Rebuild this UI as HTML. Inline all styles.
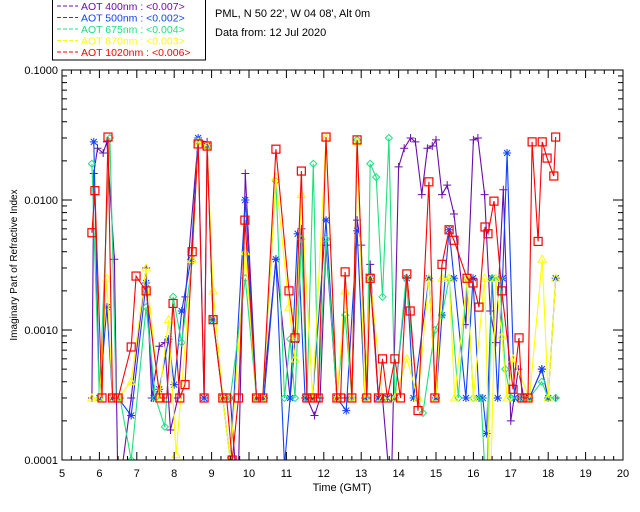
<!DOCTYPE html>
<html><head><meta charset="utf-8">
<style>
body{margin:0;background:#fff;}
svg{display:block;font-family:"Liberation Sans",sans-serif;}
</style></head>
<body>
<svg id="chart" width="640" height="512" viewBox="0 0 640 512">
  <rect x="0" y="0" width="640" height="512" fill="#fff"/>
  <g id="legend">
    <rect x="52.5" y="-1" width="153" height="61" fill="none" stroke="#000"/>
  </g>
  <text x="215" y="17" font-size="11">PML, N 50 22', W 04 08', Alt 0m</text>
  <text x="215" y="36" font-size="11">Data from: 12 Jul 2020</text>
  <defs><clipPath id="plotclip"><rect x="62" y="70" width="561" height="390"/></clipPath></defs>
  <g id="series" clip-path="url(#plotclip)"></g>
  <g id="axes"></g>
  <text x="342" y="491" font-size="11" text-anchor="middle">Time (GMT)</text>
  <text x="17" y="265" font-size="10" text-anchor="middle" transform="rotate(-90 17 265)">Imaginary Part of Refractive Index</text>
</svg>
<script>
const xTicks=[5,6,7,8,9,10,11,12,13,14,15,16,17,18,19,20];
const yTicks=[0.1,0.01,0.001,0.0001];
const yTickLabels=["0.1000","0.0100","0.0010","0.0001"];
const legendLabels=["AOT  400nm : <0.007>","AOT  500nm : <0.002>","AOT  675nm : <0.004>","AOT  870nm : <0.003>","AOT 1020nm : <0.006>"];
const colors=["#6a0dad","#1040ff","#20e080","#ffff00","#ff0000"];
const B=0.0003;
const purpleT=[5.8,5.85,5.95,6.1,6.2,6.4,6.5,6.85,7.25,7.4,7.6,7.75,7.9,8.1,8.3,8.64,8.88,9.04,9.3,9.5,9.7,9.9,10.2,10.37,10.72,11.1,11.23,11.4,11.55,11.75,11.9,12.06,12.35,12.57,12.75,12.89,13.0,13.15,13.24,13.46,13.57,13.8,14.0,14.15,14.32,14.45,14.62,14.77,14.9,15.0,15.16,15.3,15.48,15.8,16.0,16.12,16.3,16.45,16.6,16.8,17.0,17.2,17.35,17.5,17.83,18.0,18.2];
const purpleV=[B,0.016,0.025,0.023,0.028,0.0035,0.00005,B,0.003,B,0.00075,0.0008,0.00017,B,0.0018,0.029,0.028,0.0012,B,B,0.00005,0.016,B,B,0.0035,B,0.0008,0.006,B,0.00022,B,0.0045,B,B,B,0.007,0.0045,B,0.0032,B,B,0.00005,0.018,0.025,0.030,0.028,0.011,0.025,0.026,0.029,0.011,0.013,0.0078,0.0011,0.029,0.03,0.011,0.0014,0.0008,0.012,0.0002,0.0005,B,B,0.0005,B,B];
const blueT=[5.85,6.0,6.2,6.35,6.5,6.85,7.25,7.45,7.6,7.85,8.0,8.2,8.45,8.64,8.8,8.88,9.04,9.3,9.5,9.9,10.2,10.4,10.72,10.95,11.1,11.3,11.5,11.7,12.06,12.35,12.6,12.89,13.1,13.24,13.46,13.57,13.7,13.9,14.22,14.4,14.81,15.0,15.16,15.35,15.48,15.8,15.99,16.15,16.25,16.35,16.5,16.65,16.78,16.9,17.1,17.25,17.5,17.83,18.0,18.2];
const blueV=[0.028,B,0.0015,B,B,0.00022,0.0023,B,0.00035,0.00085,0.00038,0.0014,0.0035,0.03,B,0.026,0.0012,B,0.0001,0.01,B,B,0.0035,0.00009,B,0.0055,B,B,0.007,B,0.00024,0.0058,B,0.0025,B,B,B,B,0.0025,B,0.0025,B,0.0013,0.0059,0.0025,B,0.0025,B,B,0.00016,0.0025,B,0.0025,0.023,B,B,B,0.0005,B,0.0025];
const greenT=[5.8,6.0,6.28,6.45,6.55,6.85,7.25,7.5,7.75,7.97,8.2,8.48,8.64,8.88,9.04,9.3,9.5,9.9,10.2,10.37,10.72,10.95,11.1,11.23,11.4,11.55,11.72,11.85,12.06,12.35,12.57,12.75,12.89,13.15,13.24,13.4,13.57,13.74,13.9,14.2,14.5,14.65,14.97,15.16,15.35,15.6,15.83,16.0,16.2,16.35,16.5,16.7,16.85,17.0,17.3,17.5,17.83,18.0,18.2];
const greenV=[0.019,B,0.03,B,B,0.0001,0.0015,B,0.00018,0.0018,0.0008,0.0034,0.028,0.026,0.0012,B,B,0.0025,B,B,0.014,B,0.00085,B,0.005,B,0.019,B,0.005,B,0.0013,B,0.029,B,0.019,0.015,0.0018,0.03,B,0.0025,B,0.00023,0.001,0.0013,0.0025,B,0.0025,B,B,0.00005,0.0025,0.0025,0.0005,B,B,B,0.0004,B,B];
const yellowT=[5.8,6.0,6.2,6.35,6.5,6.85,7.25,7.6,7.85,8.05,8.48,8.64,8.88,9.04,9.3,9.5,9.9,10.2,10.37,10.72,11.07,11.23,11.4,11.7,12.06,12.35,12.57,12.75,12.89,13.1,13.24,13.57,13.9,14.22,14.52,14.81,15.0,15.16,15.35,15.5,15.83,16.0,16.3,16.45,16.6,16.76,16.9,17.06,17.5,17.84,18.0,18.2];
const yellowV=[B,B,0.0025,B,B,0.0004,0.003,B,0.0012,0.00011,0.0035,0.028,0.026,0.002,B,0.0001,0.004,B,B,0.015,0.0015,0.0006,0.011,B,0.03,B,0.002,B,0.028,B,0.0025,B,B,0.0006,B,0.0025,B,0.0025,0.0025,B,0.0025,B,0.0025,0.00005,0.0025,0.0009,B,0.0006,B,0.0035,B,0.0025];
const redT=[5.8,5.88,6.07,6.23,6.35,6.5,6.85,6.98,7.25,7.62,7.8,7.97,8.15,8.29,8.48,8.64,8.8,8.88,9.04,9.3,9.4,9.55,9.72,9.89,10.2,10.37,10.72,11.07,11.23,11.4,11.55,11.7,11.85,12.06,12.35,12.45,12.57,12.75,12.89,13.15,13.24,13.46,13.57,13.7,13.9,14.05,14.22,14.31,14.52,14.81,14.97,15.16,15.35,15.48,15.83,15.99,16.15,16.31,16.39,16.55,16.76,17.06,17.22,17.3,17.46,17.57,17.73,17.84,17.97,18.15,18.2];
const redV=[0.0056,0.0118,B,0.0305,B,B,0.00074,0.0026,0.002,B,B,0.0016,B,0.00038,0.004,0.027,B,0.026,0.0012,B,B,0.0001,B,0.007,B,B,0.0246,0.002,0.00087,0.0167,B,B,B,0.0305,B,B,0.0028,B,0.029,B,0.0025,B,0.0006,B,0.0006,B,0.0027,0.0014,0.00024,0.0138,B,0.0032,0.0059,0.0049,0.0025,0.0023,0.0015,0.0062,0.0055,0.0098,0.002,0.00035,0.00087,B,B,0.028,0.0048,0.028,0.021,0.0153,0.0305];

const X0=62,X1=623,Y0=70,Y1=460;
function xs(t){return X0+(t-5)/15*(X1-X0);}
function ys(v){const lv=Math.log10(Math.max(v,1e-6));return Y0+(-1-lv)/3*(Y1-Y0);}
const NS="http://www.w3.org/2000/svg";
function mk(tag,attrs,parent){const e=document.createElementNS(NS,tag);for(const k in attrs)e.setAttribute(k,attrs[k]);parent.appendChild(e);return e;}

const ax=document.getElementById('axes');
const frame=mk('rect',{x:X0,y:Y0,width:X1-X0,height:Y1-Y0,fill:'none',stroke:'#000'},ax);


xTicks.forEach(t=>{
  const x=xs(t);
  mk('line',{x1:x,x2:x,y1:Y1,y2:Y1-8,stroke:'#000'},ax);
  mk('line',{x1:x,x2:x,y1:Y0,y2:Y0+8,stroke:'#000'},ax);
  if(t<20){for(let k=1;k<4;k++){const xm=xs(t+k/4);mk('line',{x1:xm,x2:xm,y1:Y1,y2:Y1-4,stroke:'#000'},ax);mk('line',{x1:xm,x2:xm,y1:Y0,y2:Y0+4,stroke:'#000'},ax);}}
  const lb=mk('text',{x:x,y:Y1+17,'font-size':11,'text-anchor':'middle'},ax);
  lb.textContent=t;
  
  
});
yTicks.forEach((v,i)=>{
  const y=ys(v);
  mk('line',{x1:X0,x2:X0+10,y1:y,y2:y,stroke:'#000'},ax);
  mk('line',{x1:X1,x2:X1-10,y1:y,y2:y,stroke:'#000'},ax);
  if(i<3){for(let k=2;k<10;k++){const ym=ys(v/10*k);mk('line',{x1:X0,x2:X0+5,y1:ym,y2:ym,stroke:'#000'},ax);mk('line',{x1:X1,x2:X1-5,y1:ym,y2:ym,stroke:'#000'},ax);}}
  const lb=mk('text',{x:X0-4,y:y+4,'font-size':11,'text-anchor':'end'},ax);
  lb.textContent=yTickLabels[i];
  
  
});

const lg=document.getElementById('legend');
legendLabels.forEach((s,i)=>{
  const y=10+i*11.5;
  mk('line',{x1:57,x2:78,y1:y-4,y2:y-4,stroke:colors[i],'stroke-dasharray':'4,2'},lg);
  const tx=mk('text',{x:81,y:y,'font-size':10.5,fill:colors[i]},lg);
  tx.textContent=s;
  
  
});

const sg=document.getElementById('series');
const sets=[[purpleT,purpleV,'plus'],[blueT,blueV,'star'],[greenT,greenV,'diamond'],[yellowT,yellowV,'tri'],[redT,redV,'square']];
const names=['series-400nm','series-500nm','series-675nm','series-870nm','series-1020nm'];
sets.forEach((s,i)=>{
  const g=mk('g',{},sg);
  
  
  const pts=s[0].map((t,j)=>xs(t).toFixed(1)+','+ys(s[1][j]).toFixed(1)).join(' ');
  mk('polyline',{points:pts,fill:'none',stroke:colors[i],'stroke-width':1.1},g);
  s[0].forEach((t,j)=>{
    const x=xs(t),y=ys(s[1][j]),c=colors[i];let m;
    if(s[2]==='plus') m=mk('path',{d:`M${x-4},${y}H${x+4}M${x},${y-4}V${y+4}`,stroke:c,fill:'none'},g);
    else if(s[2]==='star') m=mk('path',{d:`M${x-4},${y}H${x+4}M${x},${y-4}V${y+4}M${x-3},${y-3}L${x+3},${y+3}M${x-3},${y+3}L${x+3},${y-3}`,stroke:c,fill:'none'},g);
    else if(s[2]==='diamond') m=mk('path',{d:`M${x},${y-3.5}L${x+3.5},${y}L${x},${y+3.5}L${x-3.5},${y}Z`,stroke:c,fill:'none'},g);
    else if(s[2]==='tri') m=mk('path',{d:`M${x},${y-4}L${x+4},${y+3}L${x-4},${y+3}Z`,stroke:c,fill:'none'},g);
    else m=mk('rect',{x:x-4,y:y-4,width:8,height:8,stroke:c,fill:'none','stroke-width':1.2},g);
    
    
  });
});
</script>
</body></html>
